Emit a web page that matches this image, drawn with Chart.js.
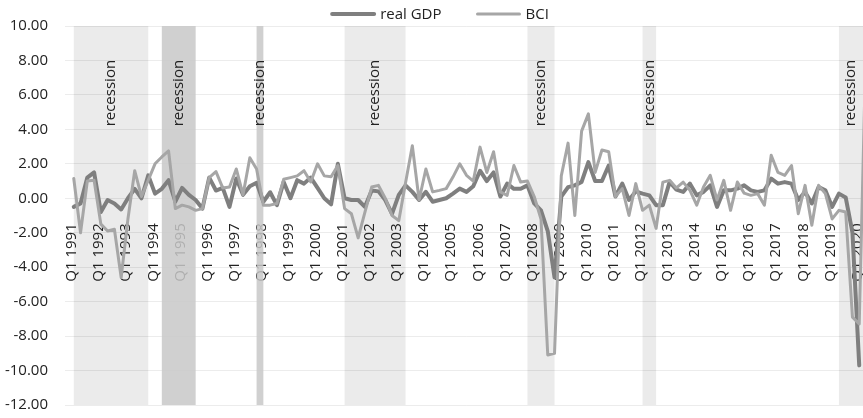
<!DOCTYPE html>
<html>
<head>
<meta charset="utf-8">
<script src="https://cdn.jsdelivr.net/npm/chart.js@4.4.1/dist/chart.umd.min.js"></script>
<style>
    html, body { margin: 0; padding: 0; background: #fff; overflow: hidden; }
    #wrap { width: 866px; height: 431px; }
</style>
</head>
<body>
<div id="wrap"><canvas id="chart" width="866" height="431"></canvas></div>
<script>
// quarters Q1 1991 .. Q3 2020
const firstYear = 1991;
const lastYear = 2020;
const quarterNames = ["Q1", "Q2", "Q3", "Q4"];
const labels = [];
for (let yr = firstYear; yr <= lastYear; yr++) {
    quarterNames.forEach((q) => labels.push(q + " " + yr));
}
labels.length = labels.indexOf("Q3 2020") + 1;

// real GDP, change on previous quarter (%)
const realGdp = [
    null, -0.5, -0.3, 1.2,      // 1991
    1.5, -0.8, -0.1, -0.3,      // 1992
    -0.65, 0.0, 0.55, 0.0,      // 1993
    1.33, 0.27, 0.55, 1.05,     // 1994
    -0.2, 0.6, 0.2, -0.1,       // 1995
    -0.6, 1.2, 0.45, 0.6,       // 1996
    -0.5, 1.15, 0.2, 0.7,       // 1997
    0.9, -0.2, 0.35, -0.4,      // 1998
    0.95, 0.0, 1.05, 0.85,      // 1999
    1.2, 0.6, 0.0, -0.35,       // 2000
    2.0, 0.0, -0.1, -0.1,       // 2001
    -0.5, 0.45, 0.4, -0.1,      // 2002
    -0.9, 0.2, 0.75, 0.37,      // 2003
    -0.1, 0.37, -0.2, -0.1,     // 2004
    0.0, 0.27, 0.56, 0.37,      // 2005
    0.7, 1.6, 1.0, 1.5,         // 2006
    0.1, 0.85, 0.55, 0.55,      // 2007
    0.75, -0.3, -0.7, -1.9,     // 2008
    -4.6, 0.1, 0.65, 0.75,      // 2009
    0.95, 2.1, 1.0, 1.0,        // 2010
    1.9, 0.1, 0.85, -0.1,       // 2011
    0.4, 0.27, 0.17, -0.4,      // 2012
    -0.4, 0.95, 0.5, 0.37,      // 2013
    0.85, 0.17, 0.37, 0.75,     // 2014
    -0.5, 0.46, 0.46, 0.56,     // 2015
    0.75, 0.46, 0.37, 0.46,     // 2016
    1.14, 0.85, 0.94, 0.85,     // 2017
    -0.1, 0.37, -0.3, 0.65,     // 2018
    0.46, -0.5, 0.27, 0.05,     // 2019
    -2.0, -9.7, null            // 2020
];

// business climate indicator
const bci = [
    null, 1.15, -2.0, 1.0,      // 1991
    1.05, -1.5, -1.9, -1.8,     // 1992
    -4.6, -1.2, 1.6, 0.1,       // 1993
    1.05, 2.0, 2.4, 2.75,       // 1994
    -0.6, -0.4, -0.5, -0.7,     // 1995
    -0.6, 1.2, 1.55, 0.6,       // 1996
    0.65, 1.7, 0.2, 2.35,       // 1997
    1.7, -0.4, -0.4, -0.3,      // 1998
    1.1, 1.2, 1.3, 1.6,         // 1999
    0.95, 2.0, 1.3, 1.25,       // 2000
    1.9, -0.6, -0.9, -2.3,      // 2001
    -0.8, 0.65, 0.75, 0.0,      // 2002
    -1.0, -1.3, 0.9, 3.05,      // 2003
    -0.1, 1.7, 0.37, 0.46,      // 2004
    0.56, 1.23, 2.0, 1.33,      // 2005
    1.0, 2.97, 1.5, 2.7,        // 2006
    0.37, 0.17, 1.9, 0.94,      // 2007
    1.0, 0.1, -1.2, -9.1,       // 2008
    -9.0, 1.3, 3.2, -1.0,       // 2009
    3.9, 4.9, 1.5, 2.8,         // 2010
    2.7, 0.1, 0.56, -1.0,       // 2011
    0.85, -0.7, -0.4, -1.75,    // 2012
    0.94, 1.04, 0.6, 0.94,      // 2013
    0.46, -0.4, 0.65, 1.33,     // 2014
    -0.1, 1.04, -0.7, 0.94,     // 2015
    0.3, 0.17, 0.27, -0.4,      // 2016
    2.5, 1.5, 1.33, 1.9,        // 2017
    -0.9, 0.75, -1.56, 0.75,    // 2018
    0.27, -1.2, -0.7, -0.8,     // 2019
    -6.9, -7.3, 9.0             // 2020
];

// recession periods (first and last quarter)
const recessionStart = ["Q2 1991", "Q3 1994", "Q1 1998", "Q2 2001", "Q1 2008", "Q2 2012", "Q3 2019"];
const recessionEnd   = ["Q1 1994", "Q4 1995", "Q2 1998", "Q3 2003", "Q1 2009", "Q4 2012", "Q3 2020"];

const yMin = -12, yMax = 10, yStep = 2;

const textColor = "#222";
const fontFamily = "'Open Sans', 'DejaVu Sans', sans-serif";
const darkBands = [1, 2];

function bandEdges(chart, k) {
    const x = chart.scales.x;
    return [
        x.getPixelForValue(labels.indexOf(recessionStart[k])),
        x.getPixelForValue(labels.indexOf(recessionEnd[k]))
    ];
}

const recessionPlugin = {
    id: "recessions",
    beforeDraw(chart) {
        const { ctx, chartArea } = chart;
        ctx.save();
        ctx.fillStyle = "#ebebeb";
        recessionStart.forEach((s, k) => {
            if (darkBands.includes(k)) return;
            const [x0, x1] = bandEdges(chart, k);
            ctx.fillRect(x0, chartArea.top, x1 - x0, chartArea.bottom - chartArea.top);
        });
        ctx.restore();
    },
    beforeDatasetsDraw(chart) {
        const { ctx, chartArea } = chart;
        const y = chart.scales.y;
        ctx.save();
        ctx.fillStyle = "rgba(200,200,200,0.85)";
        darkBands.forEach((k) => {
            const [x0, x1] = bandEdges(chart, k);
            ctx.fillRect(x0, chartArea.top, x1 - x0, chartArea.bottom - chartArea.top);
        });
        ctx.font = "15px " + fontFamily;
        ctx.fillStyle = textColor;
        ctx.textAlign = "left";
        ctx.textBaseline = "middle";
        recessionStart.forEach((s, k) => {
            const [x0, x1] = bandEdges(chart, k);
            const cx = (x0 + Math.min(x1, 863)) / 2;
            ctx.save();
            ctx.translate(cx, y.getPixelForValue(4) - 3);
            ctx.rotate(-Math.PI / 2);
            ctx.fillText("recession", 0, 0);
            ctx.restore();
        });
        ctx.restore();
    }
};

const legendPlugin = {
    id: "lineLegend",
    afterDraw(chart) {
        const ctx = chart.ctx;
        const lineLen = 44, gap = 5, spacing = 35, cy = 14;
        ctx.save();
        ctx.font = "15px " + fontFamily;
        const items = chart.data.datasets.map((ds) => ({ ds: ds, w: ctx.measureText(ds.label).width }));
        const total = items.reduce((sum, it) => sum + lineLen + gap + it.w, 0) + spacing * (items.length - 1);
        let cx = 440 - total / 2;
        items.forEach((it) => {
            ctx.strokeStyle = it.ds.borderColor;
            ctx.lineWidth = it.ds.borderWidth;
            ctx.lineCap = "round";
            ctx.beginPath();
            ctx.moveTo(cx + 1, cy);
            ctx.lineTo(cx + lineLen - 1, cy);
            ctx.stroke();
            ctx.fillStyle = textColor;
            ctx.textBaseline = "middle";
            ctx.fillText(it.ds.label, cx + lineLen + gap, cy + 1);
            cx += lineLen + gap + it.w + spacing;
        });
        ctx.restore();
    }
};

new Chart(document.getElementById("chart"), {
    type: "line",
    data: {
        labels: labels,
        datasets: [
            {
                label: "real GDP",
                data: realGdp,
                borderColor: "#7f7f7f",
                borderWidth: 4,
                order: 1
            },
            {
                label: "BCI",
                data: bci,
                borderColor: "#a6a6a6",
                borderWidth: 3,
                order: 0
            }
        ]
    },
    options: {
        responsive: false,
        animation: false,
        layout: { padding: { top: 26, bottom: 0, left: 0, right: 0 } },
        elements: {
            point: { radius: 0 },
            line: { tension: 0, borderJoinStyle: "round", borderCapStyle: "round" }
        },
        plugins: {
            legend: { display: false },
            tooltip: { enabled: false }
        },
        scales: {
            x: {
                position: { y: 0 },
                offset: false,
                afterFit: (scale) => {
                    scale.paddingLeft = 0;
                    scale.paddingRight = 0;
                    scale.paddingTop = 0;
                    scale.paddingBottom = 0;
                },
                grid: { display: false },
                border: { display: false },
                ticks: {
                    autoSkip: false,
                    minRotation: 90,
                    maxRotation: 90,
                    padding: 17,
                    labelOffset: 5,
                    color: textColor,
                    font: { family: fontFamily, size: 15 },
                    callback: (v, i) => labels[i].startsWith("Q1") ? labels[i] : ""
                }
            },
            y: {
                min: yMin,
                max: yMax,
                afterFit: (scale) => { scale.width = 67; },
                grid: {
                    color: "rgba(0,0,0,0.075)",
                    drawTicks: true,
                    tickLength: 2
                },
                border: { display: false },
                ticks: {
                    stepSize: yStep,
                    padding: 17,
                    color: textColor,
                    font: { family: fontFamily, size: 15 },
                    callback: (v) => v.toFixed(2)
                }
            }
        }
    },
    plugins: [recessionPlugin, legendPlugin]
});
</script>
</body>
</html>
